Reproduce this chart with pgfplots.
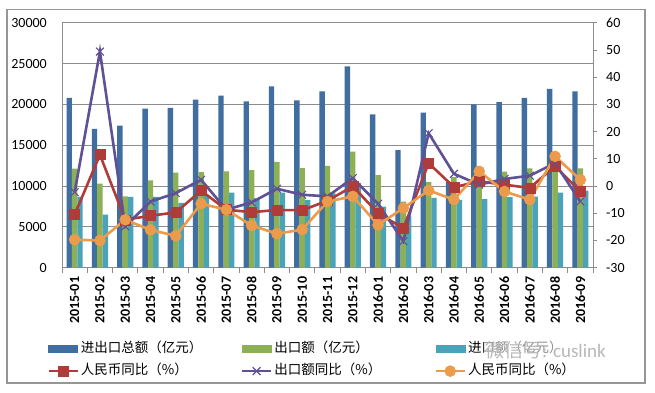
\documentclass[border=0pt]{standalone}
\usepackage{fontspec}
\setmainfont{Carlito}
\newfontfamily\cjk{Noto Sans CJK SC}
\usepackage{pgfplots}
\pgfplotsset{compat=1.18}
\usepackage{pgfplotstable}

\definecolor{cTot}{RGB}{65,110,160}
\definecolor{cExp}{RGB}{141,176,84}
\definecolor{cImp}{RGB}{74,163,184}
\definecolor{cRed}{RGB}{176,60,58}
\definecolor{cPur}{RGB}{96,80,150}
\definecolor{cOra}{RGB}{236,155,75}
\definecolor{cGrid}{RGB}{140,140,140}
\definecolor{cFrame}{RGB}{150,150,150}

\pgfplotstableread{
x tot exp imp red pur ora
0 20780 12120 8660 -10.5 -2.3 -19.7
1 17000 10290 6510 11.5 49.4 -20.0
2 17400 8740 8660 -12.4 -14.8 -12.4
3 19480 10700 8660 -10.9 -5.7 -16.1
4 19560 11630 7930 -9.7 -2.6 -18.3
5 20570 11710 8860 -1.7 2.3 -6.5
6 21060 11790 9200 -8.7 -8.7 -8.7
7 20370 11950 8400 -9.6 -6.0 -14.5
8 22200 12950 9200 -8.8 -1.0 -17.5
9 20490 12200 8300 -8.9 -3.2 -16.0
10 21590 12460 9100 -5.4 -3.8 -5.7
11 24650 14200 10400 -0.1 2.9 -3.8
12 18780 11340 7480 -10.0 -6.5 -14.3
13 14390 8100 6300 -15.5 -20.3 -8.1
14 18990 10490 8540 8.4 19.4 -1.6
15 10500 11100 8300 -0.4 4.5 -5.0
16 20000 11600 8400 1.7 0.5 5.4
17 20280 11750 8650 0.5 2.6 -2.0
18 20810 12150 8700 -0.7 3.8 -5.0
19 21910 12700 9180 7.3 8.4 10.9
20 21590 12150 9430 -2.0 -5.7 2.3
}\data

\begin{document}
\begin{tikzpicture}[x=1pt,y=1pt]
\useasboundingbox (0,0) rectangle (655,392);
\fill[white] (0,0) rectangle (655,392);
\draw[cFrame, line width=1.2pt] (7,9) rectangle (645,382.7);

\begin{axis}[
  at={(62pt,124.3pt)}, anchor=south west, scale only axis,
  width=531pt, height=245pt,
  xmin=-0.5, xmax=20.5, ymin=0, ymax=30000,
  axis x line*=bottom, axis y line*=left,
  axis line style={cGrid, line width=0.9pt, -},
  ytick={0,5000,...,30000}, scaled y ticks=false,
  ymajorgrids, grid style={cGrid, line width=0.8pt},
  ytick style={draw=none},
  /pgf/number format/assume math mode=true,
  /pgf/number format/1000 sep={},
  yticklabel style={font=\fontsize{14}{14}\selectfont, anchor=east, inner sep=0pt, xshift=-15pt},
  xtick={-0.5,0.5,...,20.5},
  x tick label as interval,
  xticklabels={2015-01,2015-02,2015-03,2015-04,2015-05,2015-06,2015-07,2015-08,2015-09,2015-10,2015-11,2015-12,2016-01,2016-02,2016-03,2016-04,2016-05,2016-06,2016-07,2016-08,2016-09},
  xticklabel style={yshift=-4pt, rotate=90, anchor=east, inner sep=0pt, font=\bfseries\fontsize{14}{14}\selectfont},
  xtick style={draw=cGrid, line width=0.8pt},
  xtick align=outside, major tick length=5pt,
]
\addplot[ybar, bar width=5.4pt, bar shift=-5.4pt, fill=cTot, draw=none] table[x=x, y=tot] {\data};
\addplot[ybar, bar width=5.4pt, bar shift=0pt, fill=cExp, draw=none] table[x=x, y=exp] {\data};
\addplot[ybar, bar width=5.4pt, bar shift=5.4pt, fill=cImp, draw=none] table[x=x, y=imp] {\data};
\end{axis}

\begin{axis}[
  at={(62pt,124.3pt)}, anchor=south west, scale only axis,
  width=531pt, height=245pt,
  xmin=-0.5, xmax=20.5, ymin=-30, ymax=60,
  axis x line=none, axis y line*=right,
  axis line style={cGrid, line width=0.9pt, -},
  ytick={-30,-20,...,60},
  ytick style={draw=cGrid, line width=0.8pt},
  ytick align=outside, major tick length=4pt,
  /pgf/number format/assume math mode=true,
  yticklabel style={font=\fontsize{14}{14}\selectfont, anchor=west, inner sep=0pt, xshift=9pt},
  legend columns=3,
  legend cell align=left,
  legend style={at={(axis description cs:-0.0282,-0.305)}, anchor=north west,
    draw=none, fill=none, inner sep=0pt, column sep=0pt, row sep=9pt,
    font=\fontsize{13.5}{14}\selectfont,
    nodes={inner sep=0pt, text height=10pt, text depth=3pt}},
  legend image code/.code={\draw[mark repeat=2,mark phase=2,#1] plot coordinates {(0pt,0pt) (14.5pt,0pt) (29pt,0pt)};},
]
\addlegendimage{legend image code/.code={\fill[cTot] (0pt,-3.5pt) rectangle (29pt,3.5pt);}}
\addlegendentry{\makebox[162pt][l]{\hspace{2pt}\cjk 进出口总额（亿元）}}
\addlegendimage{legend image code/.code={\fill[cExp] (0pt,-3.5pt) rectangle (29pt,3.5pt);}}
\addlegendentry{\makebox[162pt][l]{\hspace{2pt}\cjk 出口额（亿元）}}
\addlegendimage{legend image code/.code={\fill[cImp] (0pt,-3.5pt) rectangle (29pt,3.5pt);}}
\addlegendentry{\makebox[162pt][l]{\hspace{2pt}\cjk 进口额（亿元）}}

\addplot[cRed, line width=2.6pt, mark=square*, mark size=5pt, mark options={fill=cRed, draw=cRed, line width=0.5pt}] table[x=x, y=red] {\data};
\addlegendentry{\makebox[162pt][l]{\hspace{2pt}\cjk 人民币同比（\%）}}
\addplot[cPur, line width=2.6pt, mark=x, mark size=5.5pt, mark options={draw=cPur, line width=1.1pt}] table[x=x, y=pur] {\data};
\addlegendentry{\makebox[162pt][l]{\hspace{2pt}\cjk 出口额同比（\%）}}
\addplot[cOra, line width=2.6pt, mark=*, mark size=5.5pt, mark options={fill=cOra, draw=cOra, line width=0.5pt}] table[x=x, y=ora] {\data};
\addlegendentry{\makebox[162pt][l]{\hspace{2pt}\cjk 人民币同比（\%）}}
\end{axis}

\node[anchor=west, inner sep=1pt, fill=white, fill opacity=0.55, text opacity=1, text=black!28] at (484,42)
  {\fontsize{19}{19}\selectfont\cjk 微信号\normalfont: cuslink};
\end{tikzpicture}
\end{document}
